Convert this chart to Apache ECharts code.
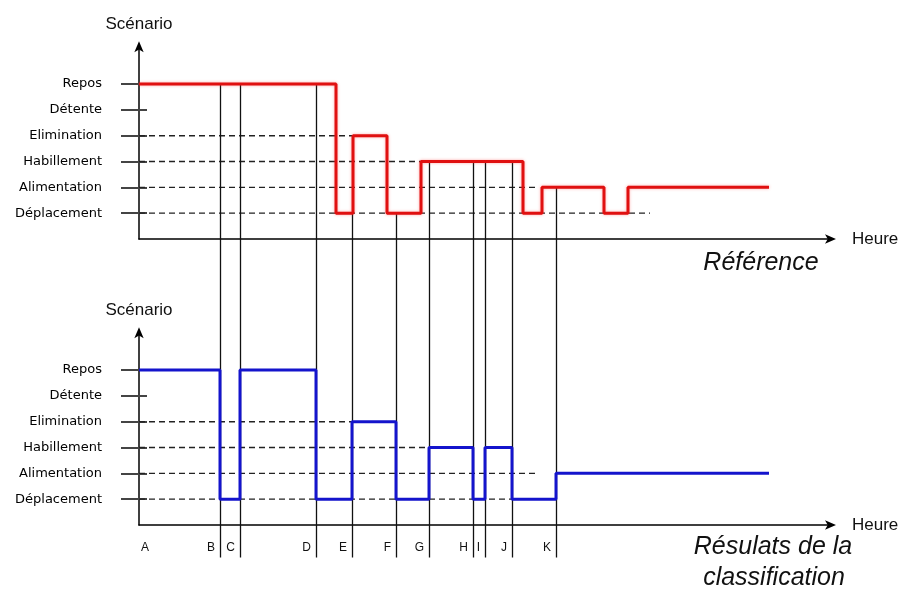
<!DOCTYPE html>
<html>
<head>
<meta charset="utf-8">
<script src="https://cdn.jsdelivr.net/npm/echarts@6/dist/echarts.min.js"></script>
<style>html,body{margin:0;padding:0;background:#fff;}#c{width:905px;height:590px;}</style>
</head>
<body>
<div id="c"></div>
<script>
// Scenario categories (bottom to top)
const levels = ['Déplacement', 'Alimentation', 'Habillement', 'Elimination', 'Détente', 'Repos'];

// Reference (red) step series: change times and levels
const refTimes  = [0, 197, 214, 248, 282, 384, 403, 465, 489, 630];
const refLevels = [5, 0, 3, 0, 2, 0, 1, 0, 1, 1];

// Classification result (blue) step series
const clsTimes  = [0, 81, 101, 177, 213, 257, 290, 334, 346, 373, 417, 630];
const clsLevels = [5, 0, 5, 0, 3, 0, 2, 0, 2, 0, 1, 1];

// Segment boundaries and their labels
const boundaryLabels = ['A', 'B', 'C', 'D', 'E', 'F', 'G', 'H', 'I', 'J', 'K'];
const boundaryTimes  = [0, 81, 101, 177, 213, 257, 290, 334, 346, 373, 417];

// Dashed guide line ends per level (Déplacement, Alimentation, Habillement, Elimination)
const refGuideEnds = [511, 399, 282, 214];
const clsGuideEnds = [417, 398, 290, 213];

const tickLevels = [0, 1, 2, 3, 4, 5];

function stepAt(times, lv, t) {
  let v = lv[0];
  for (let i = 0; i < times.length; i++) { if (times[i] <= t) v = lv[i]; }
  return v;
}

const XMAX = 693, YMIN = -1, YMAX = 6.5, LINE_BOTTOM = -13.33;
const FONT = '"Liberation Sans", Arial, sans-serif';

function makeX(gi) {
  return {
    type: 'value', gridIndex: gi, min: 0, max: XMAX,
    name: 'Heure', nameLocation: 'end', nameGap: 20,
    nameTextStyle: { fontSize: 17, fontFamily: FONT, color: '#111', verticalAlign: 'middle' },
    axisLine: { show: true, onZero: false, lineStyle: { color: '#000', width: 1.5 }, symbol: ['none', 'arrow'], symbolSize: [7, 11], symbolOffset: [0, 4] },
    axisTick: { show: false }, axisLabel: { show: false }, splitLine: { show: false }
  };
}
function makeY(gi) {
  return [{
    type: 'value', gridIndex: gi, min: YMIN, max: YMAX,
    name: 'Scénario', nameLocation: 'end', nameGap: 12,
    nameTextStyle: { fontSize: 17, fontFamily: FONT, color: '#111', align: 'center' },
    axisLine: { show: true, onZero: false, lineStyle: { color: '#000', width: 1.5 }, symbol: ['none', 'arrow'], symbolSize: [7, 11], symbolOffset: [0, 4] },
    axisTick: { show: true, customValues: tickLevels, length: 18, lineStyle: { color: '#444', width: 2 } },
    axisLabel: { show: true, customValues: tickLevels, margin: 37, fontSize: 13, fontFamily: '"DejaVu Sans", sans-serif', color: '#000',
      formatter: v => levels[Math.round(v)] || '' },
    splitLine: { show: false }
  }, {
    type: 'value', gridIndex: gi, min: YMIN, max: YMAX, position: 'left',
    axisLine: { show: false, onZero: false },
    axisTick: { show: true, inside: true, customValues: tickLevels, length: 8, lineStyle: { color: '#444', width: 2 } },
    axisLabel: { show: false }, splitLine: { show: false }
  }];
}

function guideSeries(gi, yi, ends) {
  return {
    type: 'custom', xAxisIndex: gi, yAxisIndex: yi, z: 1,
    data: ends.map((e, i) => [e, i]),
    encode: { x: 0, y: 1 },
    renderItem: (params, api) => {
      const a = api.coord([0, api.value(1)]);
      const b = api.coord([api.value(0), api.value(1)]);
      return { type: 'line', shape: { x1: a[0], y1: a[1], x2: b[0], y2: b[1] },
        style: { stroke: '#222', lineWidth: 1.4, lineDash: [6, 4] } };
    }
  };
}

const yAxes = makeY(0).concat(makeY(1));

const option = {
  animation: false,
  backgroundColor: '#fff',
  grid: [
    { left: 139, right: 73, top: 45.3, height: 193.7 },
    { left: 139, right: 73, top: 331.3, height: 193.7 }
  ],
  xAxis: [makeX(0), makeX(1)],
  yAxis: yAxes,
  graphic: [
    { type: 'text', x: 761, y: 263, z: 100,
      style: { text: 'Référence', font: 'italic 25px ' + FONT, align: 'center', textAlign: 'center', verticalAlign: 'middle', textVerticalAlign: 'middle', fill: '#111' } },
    { type: 'text', x: 773, y: 547, z: 100,
      style: { text: 'Résulats de la', font: 'italic 25px ' + FONT, align: 'center', textAlign: 'center', verticalAlign: 'middle', textVerticalAlign: 'middle', fill: '#111' } },
    { type: 'text', x: 774, y: 578, z: 100,
      style: { text: 'classification', font: 'italic 25px ' + FONT, align: 'center', textAlign: 'center', verticalAlign: 'middle', textVerticalAlign: 'middle', fill: '#111' } }
  ],
  series: [
    guideSeries(0, 0, refGuideEnds),
    guideSeries(1, 2, clsGuideEnds),
    {
      // boundary vertical lines spanning both panels
      type: 'custom', xAxisIndex: 0, yAxisIndex: 0, z: 2, clip: false,
      data: boundaryTimes.slice(1).map(t => [t, stepAt(refTimes, refLevels, t)]),
      encode: { x: 0, y: 1 },
      renderItem: (params, api) => {
        const a = api.coord([api.value(0), api.value(1)]);
        const b = api.coord([api.value(0), LINE_BOTTOM]);
        return { type: 'line', shape: { x1: Math.round(a[0]) + 0.5, y1: a[1], x2: Math.round(b[0]) + 0.5, y2: b[1] },
          style: { stroke: '#111', lineWidth: 1.3 } };
      }
    },
    {
      // boundary letters
      type: 'custom', xAxisIndex: 1, yAxisIndex: 2, z: 3, clip: false,
      data: boundaryTimes.map((t, i) => [t, i]),
      encode: { x: 0 },
      renderItem: (params, api) => {
        const i = api.value(1);
        const p = api.coord([api.value(0), YMIN]);
        const first = i === 0;
        return { type: 'text', x: first ? p[0] + 2 : p[0] - 5, y: p[1] + 23,
          style: { text: boundaryLabels[i], font: '12px ' + FONT, fill: '#111',
            align: first ? 'left' : 'right', textAlign: first ? 'left' : 'right', verticalAlign: 'middle', textVerticalAlign: 'middle' } };
      }
    },
    {
      name: 'Référence', type: 'line', xAxisIndex: 0, yAxisIndex: 0, step: 'end', z: 5,
      showSymbol: false, symbol: 'none',
      data: refTimes.map((t, i) => [t, refLevels[i]]),
      lineStyle: { color: '#e01010', width: 3, shadowColor: 'rgba(255,60,60,0.45)', shadowBlur: 3 }
    },
    {
      name: 'Classification', type: 'line', xAxisIndex: 1, yAxisIndex: 2, step: 'end', z: 5,
      showSymbol: false, symbol: 'none',
      data: clsTimes.map((t, i) => [t, clsLevels[i]]),
      lineStyle: { color: '#1414cc', width: 3 }
    }
  ]
};

const chart = echarts.init(document.getElementById('c'), null, { renderer: 'canvas' });
chart.setOption(option);
</script>
</body>
</html>
